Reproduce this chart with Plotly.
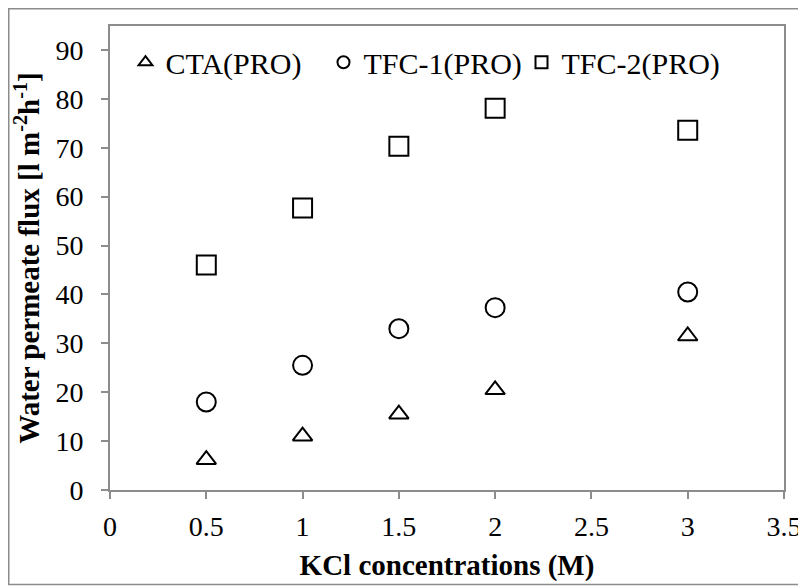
import plotly.graph_objects as go

conc = [0.5, 1.0, 1.5, 2.0, 3.0]
cta = [6.2, 11.0, 15.5, 20.5, 31.5]
tfc1 = [18.0, 25.5, 33.0, 37.3, 40.5]
tfc2 = [46.0, 57.7, 70.3, 78.1, 73.6]
names = ["CTA(PRO)", "TFC-1(PRO)", "TFC-2(PRO)"]
xticks = [0, 0.5, 1, 1.5, 2, 2.5, 3, 3.5]
yticks = [0, 10, 20, 30, 40, 50, 60, 70, 80, 90]

FONT = "Liberation Serif"
fig = go.Figure()
for ys, nm, sym, sz in [(cta, names[0], "triangle-up-open", 17),
                        (tfc1, names[1], "circle-open", 19),
                        (tfc2, names[2], "square-open", 19)]:
    fig.add_trace(go.Scatter(x=conc, y=ys, mode="markers", name=nm,
                             marker=dict(symbol=sym, size=sz, color="black",
                                         line=dict(color="black", width=2))))

# the page body adds an 8 px offset, so the figure is 8 px smaller
W, H = 798, 578
L, T = 102, 18
pw, ph = 674, 464
R, B = W - L - pw, H - T - ph
fig.update_layout(
    width=W, height=H,
    margin=dict(l=L, r=R, t=T, b=B),
    paper_bgcolor="white", plot_bgcolor="white",
    font=dict(family=FONT, size=28, color="black"),
    showlegend=True,
    legend=dict(orientation="h", x=0.023, y=0.978, xanchor="left", yanchor="top",
                bgcolor="rgba(0,0,0,0)", font=dict(size=30), itemsizing="constant",
                entrywidth=153, entrywidthmode="pixels", tracegroupgap=0),
    xaxis=dict(range=[0, 3.5], tickvals=xticks, ticktext=[f"{v:g}" for v in xticks],
               showgrid=False, zeroline=False, showline=True, linecolor="#8c8c8c",
               linewidth=2, ticks="outside", ticklen=7, tickcolor="#8c8c8c", tickwidth=2,
               mirror=True, automargin=False, tickfont=dict(size=28),
               ticklabelstandoff=3,
               title=dict(text="<b>KCl concentrations (M)</b>", standoff=14,
                          font=dict(size=29))),
    yaxis=dict(range=[0, 94.9], tickvals=yticks, showgrid=False, zeroline=False,
               showline=True, linecolor="#8c8c8c", linewidth=2, ticks="outside",
               ticklen=7, tickcolor="#8c8c8c", tickwidth=2, mirror=True,
               automargin=False, tickfont=dict(size=28), ticklabelstandoff=12,
               title=dict(text="<b>Water permeate flux [l m<sup>-2</sup>h<sup>-1</sup>]</b>",
                          standoff=7, font=dict(size=29))),
)
plot_bottom = H - B
fig.add_shape(type="rect", xref="paper", yref="paper",
              x0=(0.75 - L) / pw, x1=(793 - L) / pw,
              y0=(plot_bottom - 576.5) / ph, y1=(plot_bottom - 0.75) / ph,
              line=dict(color="#8c8c8c", width=1.5), layer="below")
fig.write_html("out.html")
